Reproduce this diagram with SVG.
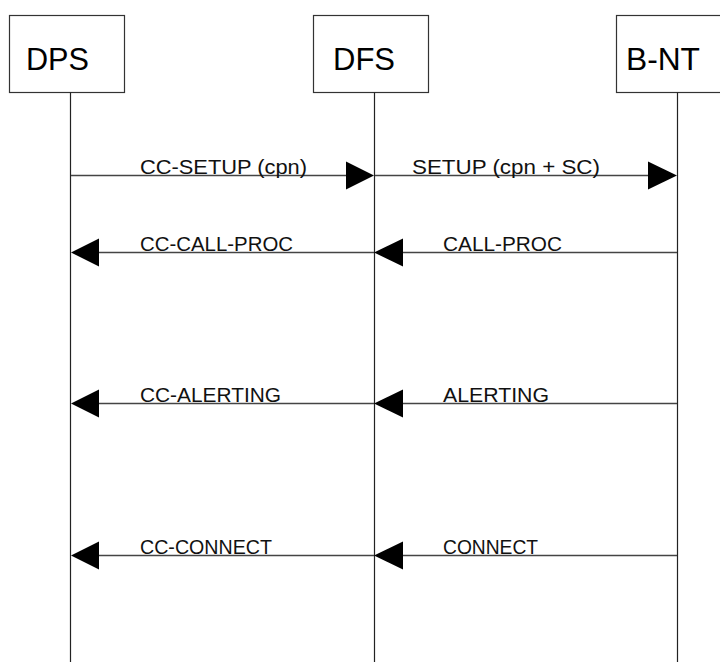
<svg xmlns="http://www.w3.org/2000/svg" width="720" height="662" viewBox="0 0 720 662">
<style>
.box{fill:#fff;stroke:#333;stroke-width:1.2}
.life{stroke:#222;stroke-width:1.2}
.msg{stroke:#444;stroke-width:1.3}
.head{fill:#000}
.nlab{font-family:"Liberation Sans",Arial,sans-serif;font-size:31px;fill:#000}
.mlab{font-family:"Liberation Sans",Arial,sans-serif;font-size:20px;fill:#111}
</style>
<rect width="720" height="662" fill="#fff"/>
<g id="node-DPS">
<rect class="box" x="9.5" y="15.5" width="115" height="77"/>
<text class="nlab" x="26" y="70" textLength="63" lengthAdjust="spacingAndGlyphs">DPS</text>
</g>
<g id="node-DFS">
<rect class="box" x="313.5" y="15.5" width="115" height="77"/>
<text class="nlab" x="333" y="70" textLength="62" lengthAdjust="spacingAndGlyphs">DFS</text>
</g>
<g id="node-BNT">
<rect class="box" x="616.5" y="15.5" width="115" height="77"/>
<text class="nlab" x="626" y="70" textLength="74" lengthAdjust="spacingAndGlyphs">B-NT</text>
</g>
<g id="connectors">
<line class="life" x1="70.5" y1="92.5" x2="70.5" y2="662"/>
<line class="life" x1="374.5" y1="92.5" x2="374.5" y2="662"/>
<line class="life" x1="677.5" y1="92.5" x2="677.5" y2="662"/>

<line class="msg" x1="71" y1="175.5" x2="350" y2="175.5"/>
<polygon class="head" points="374,175.5 346,161.5 346,189.5"/>
<text class="mlab" x="140" y="174" textLength="167" lengthAdjust="spacingAndGlyphs">CC-SETUP  (cpn)</text>

<line class="msg" x1="375" y1="175.5" x2="652" y2="175.5"/>
<polygon class="head" points="677,175.5 648,161.5 648,189.5"/>
<text class="mlab" x="412" y="174" textLength="188" lengthAdjust="spacingAndGlyphs">SETUP (cpn +  SC)</text>

<line class="msg" x1="95" y1="252.5" x2="374" y2="252.5"/>
<polygon class="head" points="71,252.5 99,238.5 99,266.5"/>
<text class="mlab" x="140" y="251" textLength="153" lengthAdjust="spacingAndGlyphs">CC-CALL-PROC</text>

<line class="msg" x1="399" y1="252.5" x2="677" y2="252.5"/>
<polygon class="head" points="374,252.5 403,238.5 403,266.5"/>
<text class="mlab" x="443" y="251" textLength="119" lengthAdjust="spacingAndGlyphs">CALL-PROC</text>

<line class="msg" x1="95" y1="403.5" x2="374" y2="403.5"/>
<polygon class="head" points="71,403.5 99,389.5 99,417.5"/>
<text class="mlab" x="140" y="402" textLength="141" lengthAdjust="spacingAndGlyphs">CC-ALERTING</text>

<line class="msg" x1="399" y1="403.5" x2="677" y2="403.5"/>
<polygon class="head" points="374,403.5 403,389.5 403,417.5"/>
<text class="mlab" x="443" y="402" textLength="106" lengthAdjust="spacingAndGlyphs">ALERTING</text>

<line class="msg" x1="95" y1="555.5" x2="374" y2="555.5"/>
<polygon class="head" points="71,555.5 99,541.5 99,569.5"/>
<text class="mlab" x="140" y="554" textLength="132" lengthAdjust="spacingAndGlyphs">CC-CONNECT</text>

<line class="msg" x1="399" y1="555.5" x2="677" y2="555.5"/>
<polygon class="head" points="374,555.5 403,541.5 403,569.5"/>
<text class="mlab" x="443" y="554" textLength="95" lengthAdjust="spacingAndGlyphs">CONNECT</text>
</g>
</svg>
